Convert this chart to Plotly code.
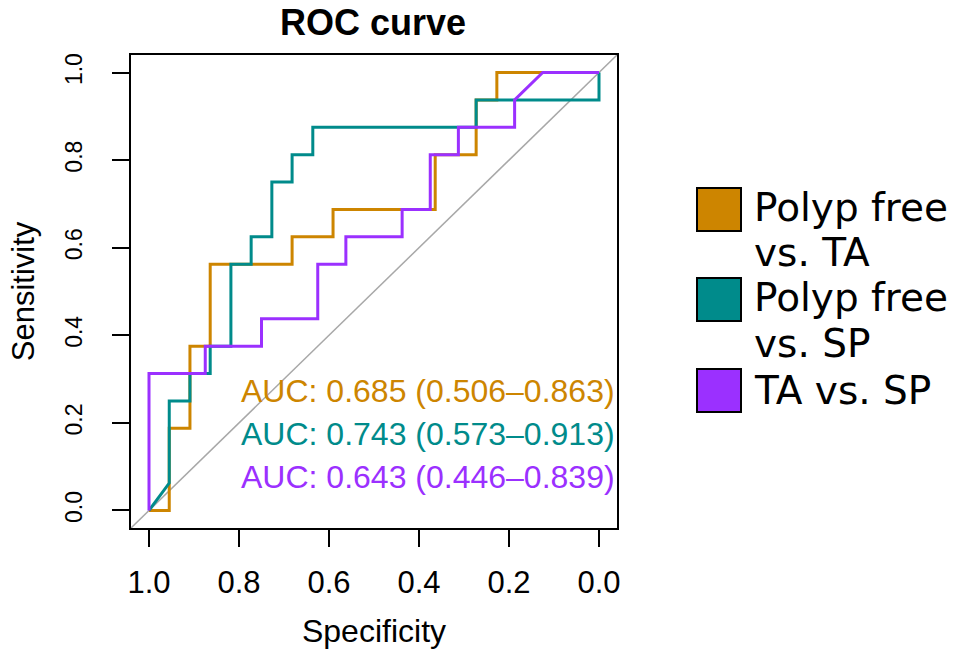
import plotly.graph_objects as go

# ---------------- data ----------------
series_names = ["Polyp free vs. TA", "Polyp free vs. SP", "TA vs. SP"]
legend_labels = ["Polyp free\nvs. TA", "Polyp free\nvs. SP", "TA vs. SP"]
series_colors = ["#CD8500", "#008B8B", "#9B30FF"]

spec_free_ta = [1.0, 0.955, 0.955, 0.909, 0.909, 0.864, 0.864, 0.682, 0.682, 0.591, 0.591,
                0.364, 0.364, 0.273, 0.273, 0.227, 0.227, 0.0]
sens_free_ta = [0.0, 0.0, 0.1875, 0.1875, 0.375, 0.375, 0.5625, 0.5625, 0.625, 0.625, 0.6875,
                0.6875, 0.8125, 0.8125, 0.9375, 0.9375, 1.0, 1.0]

spec_free_sp = [1.0, 0.955, 0.955, 0.909, 0.909, 0.864, 0.864, 0.818, 0.818, 0.773, 0.773,
                0.727, 0.727, 0.682, 0.682, 0.636, 0.636, 0.273, 0.273, 0.0, 0.0]
sens_free_sp = [0.0, 0.0625, 0.25, 0.25, 0.3125, 0.3125, 0.375, 0.375, 0.5625, 0.5625, 0.625,
                0.625, 0.75, 0.75, 0.8125, 0.8125, 0.875, 0.875, 0.9375, 0.9375, 1.0]

spec_ta_sp = [1.0, 1.0, 0.875, 0.875, 0.75, 0.75, 0.625, 0.625, 0.5625, 0.5625, 0.4375,
              0.4375, 0.375, 0.375, 0.3125, 0.3125, 0.1875, 0.1875, 0.125, 0.0]
sens_ta_sp = [0.0, 0.3125, 0.3125, 0.375, 0.375, 0.4375, 0.4375, 0.5625, 0.5625, 0.625, 0.625,
              0.6875, 0.6875, 0.8125, 0.8125, 0.875, 0.875, 0.9375, 1.0, 1.0]

auc_values = [0.685, 0.743, 0.643]
auc_ci_low = [0.506, 0.573, 0.446]
auc_ci_high = [0.863, 0.913, 0.839]
auc_label_y = [0.272, 0.174, 0.077]

tick_values = [0.0, 0.2, 0.4, 0.6, 0.8, 1.0]
tick_labels = ["0.0", "0.2", "0.4", "0.6", "0.8", "1.0"]

# ---------------- layout geometry ----------------
W, H = 974, 649
L, R, T, B = 131, 357, 55, 121
PW, PH = W - L - R, H - T - B
AX_PAD = 0.04


def px_x(px):
    return (px - L) / PW


def px_y(py):
    return (H - B - py) / PH


fig = go.Figure()

# chance diagonal across the whole box
fig.add_trace(go.Scatter(
    x=[1 + AX_PAD, -AX_PAD], y=[-AX_PAD, 1 + AX_PAD], mode="lines",
    line=dict(color="#A8A8A8", width=1.5), hoverinfo="skip", showlegend=False))

specs = [spec_free_ta, spec_free_sp, spec_ta_sp]
senss = [sens_free_ta, sens_free_sp, sens_ta_sp]
for name, sp, se, col in zip(series_names, specs, senss, series_colors):
    fig.add_trace(go.Scatter(x=sp, y=se, mode="lines", name=name,
                             line=dict(color=col, width=3), showlegend=False))

font_main = "Liberation Sans, Arial, sans-serif"

annotations = []
for a, lo, hi, yv, col in zip(auc_values, auc_ci_low, auc_ci_high, auc_label_y, series_colors):
    annotations.append(dict(
        x=0.8, y=yv, xref="x", yref="y", xanchor="left", yanchor="middle",
        text=f"AUC: {a:.3f} ({lo:.3f}–{hi:.3f})", showarrow=False,
        font=dict(family=font_main, size=32, color=col)))

# manual legend with large filled squares
shapes = []
box_tops = [188, 278, 369]
box_h = 43
line_gap = 46
for lab, col, top in zip(legend_labels, series_colors, box_tops):
    shapes.append(dict(
        type="rect", xref="paper", yref="paper",
        x0=px_x(697), x1=px_x(741), y0=px_y(top + box_h), y1=px_y(top),
        fillcolor=col, line=dict(color="black", width=2)))
    lines = lab.split("\n")
    first_center = top + 19 if len(lines) > 1 else top + 21
    for i, txt in enumerate(lines):
        annotations.append(dict(
            x=px_x(752), y=px_y(first_center + i * line_gap),
            xref="paper", yref="paper", xanchor="left", yanchor="middle",
            text=txt, showarrow=False,
            font=dict(family="DejaVu Sans, sans-serif", size=39, color="black")))

fig.update_layout(
    width=W, height=H,
    margin=dict(l=L, r=R, t=T, b=B, autoexpand=False),
    paper_bgcolor="white", plot_bgcolor="white",
    title=dict(text="<b>ROC curve</b>", x=px_x(373), xref="paper", xanchor="center",
               y=1 - 22 / H, yref="container", yanchor="middle",
               font=dict(family=font_main, size=36, color="black")),
    annotations=annotations,
    shapes=shapes,
    showlegend=False,
)

fig.update_xaxes(
    range=[1 + AX_PAD, -AX_PAD], tickvals=tick_values, ticktext=tick_labels,
    ticks="outside", ticklen=17, tickwidth=1.5, tickcolor="black",
    showline=True, linecolor="black", linewidth=2, mirror=True,
    showgrid=False, zeroline=False, ticklabelstandoff=9,
    tickfont=dict(family=font_main, size=31, color="black"),
    title=dict(text="Specificity", standoff=30,
               font=dict(family=font_main, size=32, color="black")),
    automargin=False,
)
fig.update_yaxes(
    range=[-AX_PAD, 1 + AX_PAD], tickvals=tick_values, ticktext=tick_labels,
    ticks="outside", ticklen=17, tickwidth=1.5, tickcolor="black",
    showline=True, linecolor="black", linewidth=2, mirror=True,
    showgrid=False, zeroline=False, tickangle=-90, ticklabelstandoff=21,
    tickfont=dict(family=font_main, size=23, color="black"),
    title=dict(text="Sensitivity", standoff=17,
               font=dict(family=font_main, size=31, color="black")),
    automargin=False,
)

fig.write_html("out.html")
